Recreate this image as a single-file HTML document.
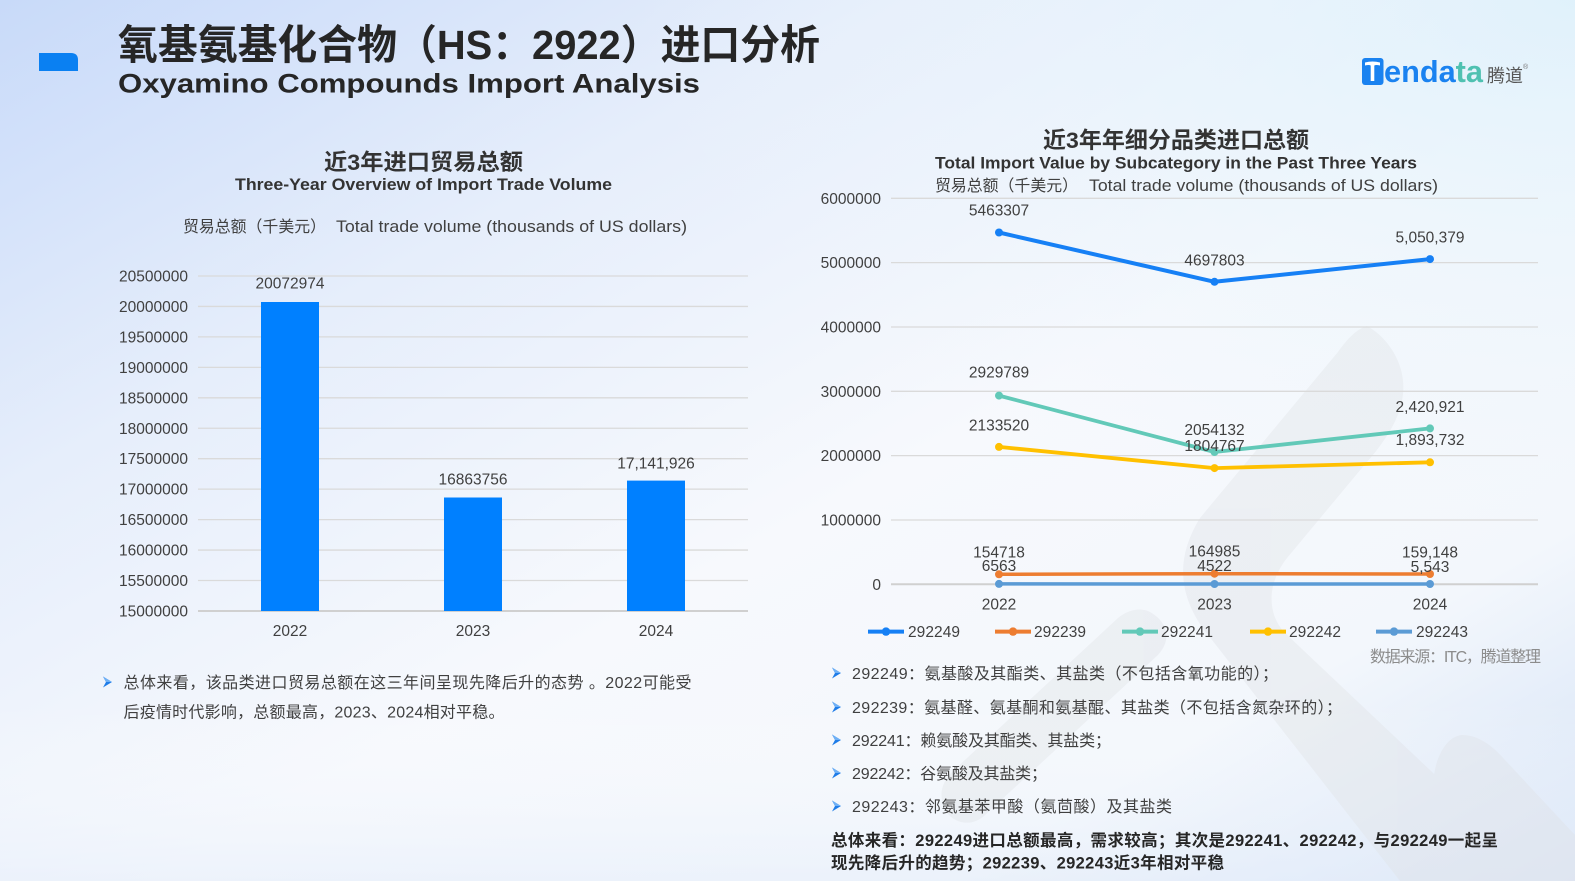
<!DOCTYPE html>
<html><head><meta charset="utf-8"><style>
html,body{margin:0;padding:0;width:1575px;height:881px;overflow:hidden;background:#f4f7fc;}
svg{display:block;}
text{font-family:"Liberation Sans","Noto Sans CJK SC",sans-serif;}
</style></head><body>
<svg width="1575" height="881" viewBox="0 0 1575 881" xmlns="http://www.w3.org/2000/svg">
<defs>
<linearGradient id="bg" x1="0" y1="0" x2="1" y2="1">
<stop offset="0" stop-color="#c8daf9"/>
<stop offset="0.28" stop-color="#e6eefb"/>
<stop offset="0.55" stop-color="#f7f9fd"/>
<stop offset="0.8" stop-color="#f3f7fc"/>
<stop offset="1" stop-color="#d4e2f6"/>
</linearGradient>
<radialGradient id="tr" cx="1" cy="0" r="0.6">
<stop offset="0" stop-color="#dff1fb" stop-opacity="0.95"/>
<stop offset="1" stop-color="#eef6fc" stop-opacity="0"/>
</radialGradient>
<linearGradient id="bl" x1="0" y1="0" x2="0" y2="1">
<stop offset="0" stop-color="#ffffff" stop-opacity="0"/>
<stop offset="1" stop-color="#e6eefa" stop-opacity="0.6"/>
</linearGradient>
</defs>
<rect width="1575" height="881" fill="url(#bg)"/>
<rect width="1575" height="881" fill="url(#tr)"/>
<rect y="700" width="1575" height="181" fill="url(#bl)"/>

<!-- watermark -->
<g fill="#dfe1e6" opacity="0.38">
<path d="M1367,326 C1392,340 1410,372 1401,405 C1396,425 1382,445 1366,463 L1287,558 C1268,582 1266,612 1284,632 L1430,770 L1545,881 L1400,881 L1212,640 C1178,600 1174,560 1200,518 L1338,352 C1348,338 1357,329 1367,326 Z"/>
<path d="M1150,612 C1168,622 1172,640 1158,655 L985,815 C970,830 945,822 942,800 C940,790 944,780 952,772 L1118,618 C1128,610 1140,607 1150,612 Z"/>
<path d="M1462,735 C1478,735 1492,745 1505,760 L1575,835 L1575,881 L1440,881 C1430,840 1428,800 1436,765 C1441,748 1450,736 1462,735 Z"/>
</g>

<!-- header -->
<path d="M39,53 L71,53 Q78,53 78,60 L78,71 L39,71 Z" fill="#0a80f2"/>
<text x="118" y="59" font-size="41" font-weight="bold" fill="#262626" textLength="702" lengthAdjust="spacingAndGlyphs">氧基氨基化合物（HS：2922）进口分析</text>
<text x="118" y="92.5" font-size="27" font-weight="bold" fill="#262626" textLength="582" lengthAdjust="spacingAndGlyphs">Oxyamino Compounds Import Analysis</text>

<!-- logo -->
<rect x="1362" y="58" width="21.5" height="27" rx="3" fill="#1a82f0"/>
<path d="M1365,62.5 Q1372.5,60.5 1380,62.5 L1380,65.5 Q1376,64.5 1374.3,65.5 L1374.3,81 L1370.7,81 L1370.7,65.5 Q1369,64.5 1365,65.5 Z" fill="#ffffff"/>
<text x="1384" y="82" font-size="31" font-weight="bold" textLength="99" lengthAdjust="spacingAndGlyphs"><tspan fill="#1a82f0">enda</tspan><tspan fill="#4fc1b1">ta</tspan></text>
<text x="1487" y="82" font-size="18" fill="#555555" textLength="36" lengthAdjust="spacingAndGlyphs">腾道</text>
<text x="1523" y="69" font-size="7" fill="#777">®</text>

<!-- LEFT CHART -->
<text x="423.5" y="170" font-size="22.5" font-weight="bold" fill="#333" text-anchor="middle" textLength="199" lengthAdjust="spacingAndGlyphs">近3年进口贸易总额</text>
<text x="423.5" y="190" font-size="17" font-weight="bold" fill="#333" text-anchor="middle" textLength="377" lengthAdjust="spacingAndGlyphs">Three-Year Overview of Import Trade Volume</text>
<text x="183" y="232" font-size="16" fill="#404040" textLength="143" lengthAdjust="spacingAndGlyphs">贸易总额（千美元）</text>
<text x="336" y="232" font-size="16.5" fill="#404040" textLength="351" lengthAdjust="spacingAndGlyphs">Total trade volume (thousands of US dollars)</text>

<g stroke="#dadada" stroke-width="1.3">
<line x1="198" y1="276" x2="748" y2="276"/>
<line x1="198" y1="306.45" x2="748" y2="306.45"/>
<line x1="198" y1="336.9" x2="748" y2="336.9"/>
<line x1="198" y1="367.35" x2="748" y2="367.35"/>
<line x1="198" y1="397.8" x2="748" y2="397.8"/>
<line x1="198" y1="428.25" x2="748" y2="428.25"/>
<line x1="198" y1="458.7" x2="748" y2="458.7"/>
<line x1="198" y1="489.15" x2="748" y2="489.15"/>
<line x1="198" y1="519.6" x2="748" y2="519.6"/>
<line x1="198" y1="550.05" x2="748" y2="550.05"/>
<line x1="198" y1="580.5" x2="748" y2="580.5"/>
</g>
<line x1="198" y1="611" x2="748" y2="611" stroke="#d0d0d0" stroke-width="2"/>
<g font-size="15.5" fill="#404040" text-anchor="end">
<text x="188" y="281.5">20500000</text>
<text x="188" y="312">20000000</text>
<text x="188" y="342.4">19500000</text>
<text x="188" y="372.9">19000000</text>
<text x="188" y="403.3">18500000</text>
<text x="188" y="433.8">18000000</text>
<text x="188" y="464.2">17500000</text>
<text x="188" y="494.7">17000000</text>
<text x="188" y="525.1">16500000</text>
<text x="188" y="555.6">16000000</text>
<text x="188" y="586">15500000</text>
<text x="188" y="616.5">15000000</text>
</g>
<rect x="261" y="302" width="58" height="309" fill="#0080ff"/>
<rect x="444" y="497.5" width="58" height="113.5" fill="#0080ff"/>
<rect x="627" y="480.6" width="58" height="130.4" fill="#0080ff"/>
<g font-size="15.5" fill="#404040" text-anchor="middle">
<text x="290" y="288.5">20072974</text>
<text x="473" y="484.5">16863756</text>
<text x="656" y="468.5">17,141,926</text>
<text x="290" y="636">2022</text>
<text x="473" y="636">2023</text>
<text x="656" y="636">2024</text>
</g>

<!-- left bullet -->
<g>
<polygon points="103,676.5 112,682 103,687.5 106,682" fill="#1e7ce8"/>
<polygon points="103,676.5 112,682 106,682" fill="#6fb0f5"/>
</g>
<text x="123.5" y="688" font-size="16" fill="#404040" textLength="568" lengthAdjust="spacing">总体来看，该品类进口贸易总额在这三年间呈现先降后升的态势 。2022可能受</text>
<text x="123.5" y="717.5" font-size="16" fill="#404040" textLength="381" lengthAdjust="spacing">后疫情时代影响，总额最高，2023、2024相对平稳。</text>

<!-- RIGHT CHART -->
<text x="1176" y="148" font-size="22.5" font-weight="bold" fill="#333" text-anchor="middle" textLength="266" lengthAdjust="spacingAndGlyphs">近3年年细分品类进口总额</text>
<text x="1176" y="168.5" font-size="17" font-weight="bold" fill="#333" text-anchor="middle" textLength="482" lengthAdjust="spacingAndGlyphs">Total Import Value by Subcategory in the Past Three Years</text>
<text x="935" y="191" font-size="16" fill="#404040" textLength="143" lengthAdjust="spacingAndGlyphs">贸易总额（千美元）</text>
<text x="1089" y="191" font-size="16.5" fill="#404040" textLength="349" lengthAdjust="spacingAndGlyphs">Total trade volume (thousands of US dollars)</text>

<g stroke="#dadada" stroke-width="1.3">
<line x1="891" y1="198.3" x2="1538" y2="198.3"/>
<line x1="891" y1="262.6" x2="1538" y2="262.6"/>
<line x1="891" y1="327" x2="1538" y2="327"/>
<line x1="891" y1="391.3" x2="1538" y2="391.3"/>
<line x1="891" y1="455.6" x2="1538" y2="455.6"/>
<line x1="891" y1="520" x2="1538" y2="520"/>
</g>
<line x1="891" y1="584.3" x2="1538" y2="584.3" stroke="#d0d0d0" stroke-width="2"/>
<g font-size="15.5" fill="#404040" text-anchor="end">
<text x="881" y="203.8">6000000</text>
<text x="881" y="268.1">5000000</text>
<text x="881" y="332.5">4000000</text>
<text x="881" y="396.8">3000000</text>
<text x="881" y="461.1">2000000</text>
<text x="881" y="525.5">1000000</text>
<text x="881" y="589.8">0</text>
</g>

<g fill="none" stroke-linejoin="round" stroke-linecap="round">
<polyline points="999,583.9 1214.5,584 1430,584" stroke="#5b9bd5" stroke-width="3.5"/>
<polyline points="999,574.3 1214.5,573.7 1430,574" stroke="#ed7d31" stroke-width="3.5"/>
<polyline points="999,446.9 1214.5,468.1 1430,462.3" stroke="#ffc000" stroke-width="3.8"/>
<polyline points="999,395.6 1214.5,452 1430,428.4" stroke="#62c9b8" stroke-width="3.8"/>
<polyline points="999,232.5 1214.5,281.8 1430,259.1" stroke="#1680f5" stroke-width="4"/>
</g>
<g>
<circle cx="999" cy="583.9" r="4" fill="#5b9bd5"/><circle cx="1214.5" cy="584" r="4" fill="#5b9bd5"/><circle cx="1430" cy="584" r="4" fill="#5b9bd5"/>
<circle cx="999" cy="574.3" r="4" fill="#ed7d31"/><circle cx="1214.5" cy="573.7" r="4" fill="#ed7d31"/><circle cx="1430" cy="574" r="4" fill="#ed7d31"/>
<circle cx="999" cy="446.9" r="4" fill="#ffc000"/><circle cx="1214.5" cy="468.1" r="4" fill="#ffc000"/><circle cx="1430" cy="462.3" r="4" fill="#ffc000"/>
<circle cx="999" cy="395.6" r="4" fill="#62c9b8"/><circle cx="1214.5" cy="452" r="4" fill="#62c9b8"/><circle cx="1430" cy="428.4" r="4" fill="#62c9b8"/>
<circle cx="999" cy="232.5" r="4" fill="#1680f5"/><circle cx="1214.5" cy="281.8" r="4" fill="#1680f5"/><circle cx="1430" cy="259.1" r="4" fill="#1680f5"/>
</g>
<g font-size="15.5" fill="#404040" text-anchor="middle">
<text x="999" y="215.5">5463307</text>
<text x="1214.5" y="265.5">4697803</text>
<text x="1430" y="242.5">5,050,379</text>
<text x="999" y="377.5">2929789</text>
<text x="999" y="430.5">2133520</text>
<text x="1214.5" y="435">2054132</text>
<text x="1214.5" y="451">1804767</text>
<text x="1430" y="411.8">2,420,921</text>
<text x="1430" y="445.2">1,893,732</text>
<text x="999" y="557.5">154718</text>
<text x="999" y="571">6563</text>
<text x="1214.5" y="556.3">164985</text>
<text x="1214.5" y="570.8">4522</text>
<text x="1430" y="557.5">159,148</text>
<text x="1430" y="571.9">5,543</text>
<text x="999" y="609.3">2022</text>
<text x="1214.5" y="609.3">2023</text>
<text x="1430" y="609.3">2024</text>
</g>

<!-- legend -->
<g stroke-width="4">
<line x1="868" y1="631.6" x2="904" y2="631.6" stroke="#1680f5"/>
<line x1="995" y1="631.6" x2="1031" y2="631.6" stroke="#ed7d31"/>
<line x1="1122" y1="631.6" x2="1158" y2="631.6" stroke="#62c9b8"/>
<line x1="1250" y1="631.6" x2="1286" y2="631.6" stroke="#ffc000"/>
<line x1="1376" y1="631.6" x2="1412" y2="631.6" stroke="#5b9bd5"/>
</g>
<circle cx="886" cy="631.6" r="4.2" fill="#1680f5"/>
<circle cx="1013" cy="631.6" r="4.2" fill="#ed7d31"/>
<circle cx="1140" cy="631.6" r="4.2" fill="#62c9b8"/>
<circle cx="1268" cy="631.6" r="4.2" fill="#ffc000"/>
<circle cx="1394" cy="631.6" r="4.2" fill="#5b9bd5"/>
<g font-size="15.5" fill="#404040">
<text x="908" y="637" textLength="52">292249</text>
<text x="1034" y="637" textLength="52">292239</text>
<text x="1161" y="637" textLength="52">292241</text>
<text x="1289" y="637" textLength="52">292242</text>
<text x="1416" y="637" textLength="52">292243</text>
</g>
<text x="1541" y="662" font-size="16" fill="#8c8c8c" text-anchor="end" textLength="171" lengthAdjust="spacing">数据来源：ITC，腾道整理</text>

<!-- right bullets -->
<g>
<polygon points="832,667.5 841,673 832,678.5 835,673" fill="#1e7ce8"/><polygon points="832,667.5 841,673 835,673" fill="#6fb0f5"/>
<polygon points="832,701.5 841,707 832,712.5 835,707" fill="#1e7ce8"/><polygon points="832,701.5 841,707 835,707" fill="#6fb0f5"/>
<polygon points="832,734.5 841,740 832,745.5 835,740" fill="#1e7ce8"/><polygon points="832,734.5 841,740 835,740" fill="#6fb0f5"/>
<polygon points="832,767.5 841,773 832,778.5 835,773" fill="#1e7ce8"/><polygon points="832,767.5 841,773 835,773" fill="#6fb0f5"/>
<polygon points="832,800.5 841,806 832,811.5 835,806" fill="#1e7ce8"/><polygon points="832,800.5 841,806 835,806" fill="#6fb0f5"/>
</g>
<g font-size="16" fill="#404040">
<text x="852" y="679" textLength="426" lengthAdjust="spacing">292249：氨基酸及其酯类、其盐类（不包括含氧功能的）；</text>
<text x="852" y="713" textLength="490" lengthAdjust="spacing">292239：氨基醛、氨基酮和氨基醌、其盐类（不包括含氮杂环的）；</text>
<text x="852" y="746" textLength="259" lengthAdjust="spacing">292241：赖氨酸及其酯类、其盐类；</text>
<text x="852" y="779" textLength="195" lengthAdjust="spacing">292242：谷氨酸及其盐类；</text>
<text x="852" y="812" textLength="320" lengthAdjust="spacing">292243：邻氨基苯甲酸（氨茴酸）及其盐类</text>
</g>
<g font-size="16.5" font-weight="bold" fill="#262626">
<text x="831" y="846" textLength="667" lengthAdjust="spacing">总体来看：292249进口总额最高，需求较高；其次是292241、292242，与292249一起呈</text>
<text x="831" y="868.5" textLength="393" lengthAdjust="spacing">现先降后升的趋势；292239、292243近3年相对平稳</text>
</g>
</svg>
</body></html>
